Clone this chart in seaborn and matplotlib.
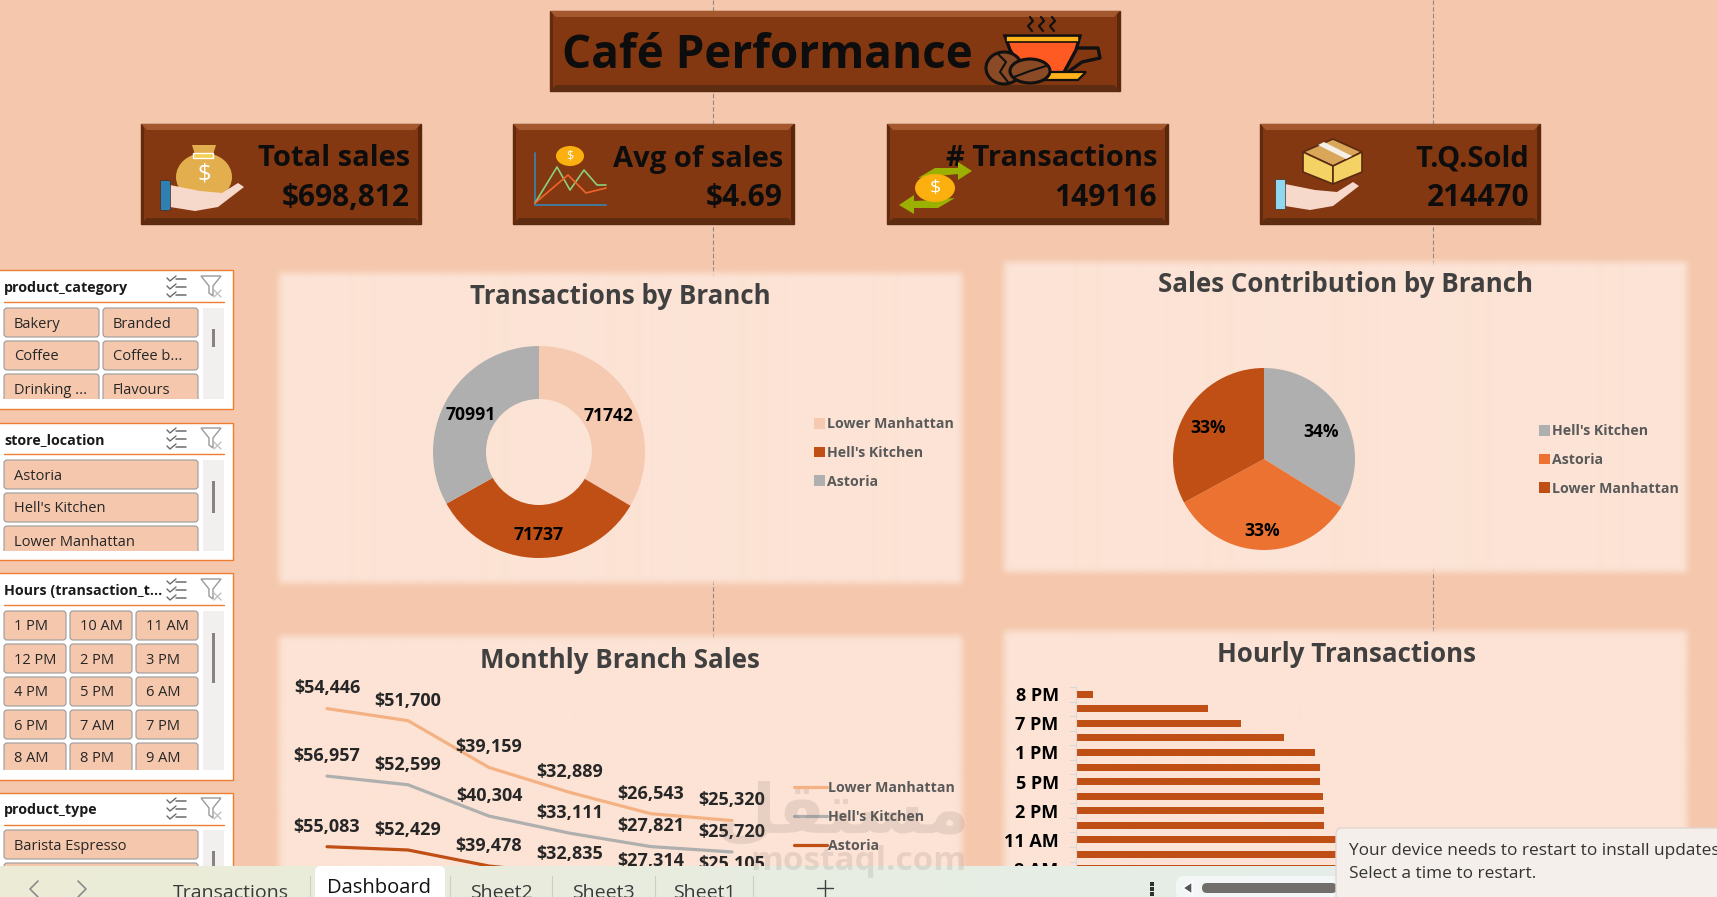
#!/usr/bin/env python
# coding: utf-8
import numpy as np
import pandas as pd
import matplotlib.pyplot as plt
from matplotlib.colors import to_rgb
from matplotlib.patches import Rectangle, FancyBboxPatch, Polygon, Ellipse
import seaborn as sns

sns.set_style('white')
plt.rcParams['font.family'] = ['Open Sans', 'DejaVu Sans']

W, H = 1717, 897
BG = '#F5C8AD'
PANEL = '#FCE3D5'
BROWN = '#843812'
DARK = '#C04F15'
GREY = '#AFAFAF'
LEGEND_TXT = '#595959'

# data
kpi_names = ['Total sales', 'Avg of sales', '# Transactions', 'T.Q.Sold']
kpi_values = ['$698,812', '$4.69', '149116', '214470']

branch_donut = ['Lower Manhattan', "Hell's Kitchen", 'Astoria']
trans_by_branch = [71742, 71737, 70991]

months = ['Jun', 'May', 'Apr', 'Mar', 'Feb', 'Jan']
lower_manhattan = [54446, 51700, 39159, 32889, 26543, 25320]
hells_kitchen = [56957, 52599, 40304, 33111, 27821, 25720]
astoria = [55083, 52429, 39478, 32835, 27314, 25105]

branch_pie = ["Hell's Kitchen", 'Astoria', 'Lower Manhattan']
sales_by_branch = [sum(hells_kitchen), sum(astoria), sum(lower_manhattan)]

hours = ['8 PM', '6 AM', '7 PM', '6 PM', '1 PM', '4 PM', '5 PM', '12 PM',
         '2 PM', '3 PM', '11 AM', '7 AM', '8 AM', '9 AM', '10 AM']
hour_trans = [603, 4750, 5960, 7500, 8620, 8800, 8800, 8900,
              8950, 8950, 9770, 13400, 17650, 17760, 18500]

slicer_category = ['Bakery', 'Branded', 'Coffee', 'Coffee b...', 'Drinking ...', 'Flavours']
slicer_store = ['Astoria', "Hell's Kitchen", 'Lower Manhattan']
slicer_hours = ['1 PM', '10 AM', '11 AM', '12 PM', '2 PM', '3 PM', '4 PM', '5 PM',
                '6 AM', '6 PM', '7 AM', '7 PM', '8 AM', '8 PM', '9 AM']
slicer_type = ['Barista Espresso', '']

fig = plt.figure(figsize=(W / 100, H / 100), dpi=100, facecolor=BG)


def px_axes(x0, y0, x1, y1, z=1):
    a = fig.add_axes([x0 / W, 1 - y1 / H, (x1 - x0) / W, (y1 - y0) / H])
    a.set_zorder(z)
    a.patch.set_alpha(0)
    return a


bg = px_axes(0, 0, W, H, 0)
top = px_axes(0, 0, W, H, 5)
for a in (bg, top):
    a.set_xlim(0, W)
    a.set_ylim(H, 0)
    a.axis('off')

# page break lines
for x in (713, 1433):
    bg.plot([x, x], [0, 640], color='#8A8A8A', lw=0.8, ls=(0, (4, 2)), zorder=0.5)


# ---- brown boxes
def bevel_box(x0, y0, x1, y1):
    b = 6
    bg.add_patch(Rectangle((x0, y0), x1 - x0, y1 - y0, fc=BROWN, ec='#5A2A10', lw=1, zorder=2))
    bg.add_patch(Polygon([(x0, y0), (x1, y0), (x1 - b, y0 + b), (x0 + b, y0 + b)], fc='#A5582E', ec='none', zorder=2))
    bg.add_patch(Polygon([(x0, y1), (x1, y1), (x1 - b, y1 - b), (x0 + b, y1 - b)], fc='#5E2C10', ec='none', zorder=2))
    bg.add_patch(Polygon([(x0, y0), (x0 + 3, y0 + 3), (x0 + 3, y1 - 3), (x0, y1)], fc='#632A0D', ec='none', zorder=2))
    bg.add_patch(Polygon([(x1, y0), (x1 - 3, y0 + 3), (x1 - 3, y1 - 3), (x1, y1)], fc='#5A260B', ec='none', zorder=2))


bevel_box(550, 11, 1120, 91)
bg.text(562, 55, 'Café Performance', fontsize=33, fontweight='bold', color='#0D0D0D', va='center', zorder=3)

kpi_x = [(141, 421), (513, 794), (887, 1168), (1260, 1540)]
for (x0, x1), name, val in zip(kpi_x, kpi_names, kpi_values):
    bevel_box(x0, 124, x1, 224)
    bg.text(x1 - 11, 159, name, fontsize=21, fontweight='bold', color='#0D0D0D', ha='right', va='center', zorder=3)
    bg.text(x1 - 11, 198, val, fontsize=21.5, fontweight='bold', color='#0D0D0D', ha='right', va='center', zorder=3)


# ---- icons, rough shapes only
def poly(pts, fc, ec='none', lw=0, z=3):
    bg.add_patch(Polygon(pts, fc=fc, ec=ec, lw=lw, zorder=z))


def ell(cx, cy, rx, ry, fc, ec='none', lw=0, z=3):
    bg.add_patch(Ellipse((cx, cy), 2 * rx, 2 * ry, fc=fc, ec=ec, lw=lw, zorder=z))


def hand(x0, y0, flip_cuff):
    poly([(x0 + 10, y0 + 2), (x0 + 40, y0 + 8), (x0 + 62, y0 + 10), (x0 + 78, y0), (x0 + 84, y0 + 4),
          (x0 + 58, y0 + 24), (x0 + 35, y0 + 28), (x0 + 10, y0 + 24)], '#F6D9CB', z=4)
    bg.add_patch(Rectangle((x0, y0 - 3), 10, 30, fc=flip_cuff, ec='#4A2A1A', lw=0.5, zorder=4))


# cup
cup = [(1005, 36), (1080, 36), (1076, 50), (1062, 76), (1026, 76), (1010, 50)]
poly(cup, '#FF5A22', ec='#111111', lw=2.4)
bg.add_patch(Rectangle((1006, 36), 73, 6, fc='#FFB21A', ec='#111111', lw=1.2, zorder=3))
bg.plot([1078, 1098, 1100, 1082, 1068], [48, 48, 58, 62, 72], color='#111111', lw=2.4, zorder=3)
poly([(1042, 72), (1086, 72), (1078, 80), (1038, 80)], '#FFB21A', ec='#111111', lw=1.6)
for sx in (1030, 1041, 1052):
    bg.plot([sx, sx + 3, sx - 2, sx + 2], [17, 21, 26, 31], color='#111111', lw=1.6, zorder=3)
ell(1004, 68, 18, 16, '#8A4A26', ec='#111111', lw=2.2, z=4)
ell(1030, 71, 20, 12, '#8A4A26', ec='#111111', lw=2.2, z=4)
bg.plot([1014, 1030, 1046], [77, 71, 66], color='#111111', lw=1.5, zorder=4)
bg.plot([998, 1006, 1000, 1008], [54, 62, 72, 82], color='#111111', lw=1.5, zorder=4)

# money bag
ell(204, 177, 28, 24, '#E3AE4E')
poly([(192, 145), (216, 145), (212, 158), (196, 158)], '#E3AE4E')
bg.add_patch(Rectangle((193, 153), 20, 5, fc='#F3D04E', zorder=3))
bg.text(204, 175, '$', color='white', fontsize=17, ha='center', va='center', zorder=4)
hand(160, 183, '#2F7FB0')

# small chart
bg.plot([535, 535, 606], [153, 205, 205], color='#3C7FA8', lw=1.3, zorder=3)
bg.plot([535, 557, 570, 584, 597, 606], [203, 167, 190, 170, 185, 185], color='#8BD07A', lw=1.2, zorder=3)
bg.plot([535, 568, 586, 606], [203, 175, 193, 188], color='#F0642A', lw=1.2, zorder=3)
ell(570, 156, 14, 10, '#FBB010')
bg.text(570, 156, '$', color='white', fontsize=9, ha='center', va='center', zorder=4)

# transfer icon
poly([(918, 178), (935, 168), (958, 168), (958, 162), (972, 171), (958, 180), (958, 174), (938, 176)], '#9BB000')
poly([(955, 198), (938, 208), (914, 208), (914, 214), (899, 205), (914, 195), (914, 201), (934, 200)], '#9BB000')
ell(935, 188, 20, 14, '#FBB010', z=4)
bg.text(935, 188, '$', color='white', fontsize=14, ha='center', va='center', zorder=5)

# parcel icon
poly([(1333, 139), (1362, 152), (1333, 166), (1303, 152)], '#D9A65A', ec='#5A2A10', lw=1.2)
poly([(1303, 152), (1333, 166), (1333, 184), (1303, 172)], '#F4D264', ec='#5A2A10', lw=1.2)
poly([(1362, 152), (1333, 166), (1333, 184), (1362, 172)], '#F4D264', ec='#5A2A10', lw=1.2)
poly([(1318, 145), (1324, 142), (1352, 156), (1346, 159)], '#F4EFE8')
hand(1275, 182, '#8FD8F0')


# ---- chart panels with the soft edge
def soft_panel(x0, y0, x1, y1, blur=6):
    xs = np.arange(x0 - blur, x1 + blur) + 0.5
    ys = np.arange(y0 - blur, y1 + blur) + 0.5
    ramp = lambda d: np.clip((d + blur) / (2 * blur), 0, 1) ** 2 * (3 - 2 * np.clip((d + blur) / (2 * blur), 0, 1))
    ax_ = ramp(np.minimum(xs - x0, x1 - xs))
    ay_ = ramp(np.minimum(ys - y0, y1 - ys))
    img = np.zeros((len(ys), len(xs), 4))
    img[..., :3] = to_rgb(PANEL)
    img[..., 3] = np.outer(ay_, ax_)
    bg.imshow(img, extent=[x0 - blur, x1 + blur, y1 + blur, y0 - blur], aspect='auto', interpolation='bilinear', zorder=1)


soft_panel(279, 273, 961, 583)
soft_panel(1004, 262, 1686, 572)
soft_panel(279, 637, 961, 920)
soft_panel(1004, 632, 1686, 920)
bg.set_xlim(0, W)
bg.set_ylim(H, 0)

for txt, cx, cy in [('Transactions by Branch', 620, 296), ('Sales Contribution by Branch', 1345, 285),
                    ('Monthly Branch Sales', 620, 660), ('Hourly Transactions', 1346, 655)]:
    bg.text(cx, cy, txt, fontsize=18.6, fontweight='bold', color='#404040', ha='center', va='center', zorder=3)


def legend_at(ax, handles, labels, x, y, **kw):
    ax.legend(handles, labels, loc='center left', bbox_to_anchor=(x / W, 1 - y / H), bbox_transform=fig.transFigure,
              frameon=False, labelcolor=LEGEND_TXT, prop={'weight': 'bold', 'size': 10.2}, labelspacing=1.03,
              borderpad=0, borderaxespad=0, **kw)


def nudge(t, dy):
    x, y = t.get_position()
    t.set_position((x, y + dy))


# donut
R = 106
ax1 = px_axes(539 - R * 1.05, 452 - R * 1.05, 539 + R * 1.05, 452 + R * 1.05)
w1, _, t1 = ax1.pie(trans_by_branch, startangle=90, counterclock=False, colors=['#F6CAB0', DARK, GREY],
                    wedgeprops={'width': 0.5, 'edgecolor': 'none', 'linewidth': 0}, pctdistance=0.75, radius=1,
                    autopct=lambda p: f'{round(p * sum(trans_by_branch) / 100)}',
                    textprops={'fontsize': 12.6, 'fontweight': 'bold', 'color': 'black'})
for t in t1:
    nudge(t, -0.03)
ax1.set_xlim(-1.05, 1.05)
ax1.set_ylim(-1.05, 1.05)
legend_at(ax1, w1, branch_donut, 814, 453, handlelength=0.75, handleheight=0.75, handletextpad=0.2)

# pie
R = 91
ax2 = px_axes(1264 - R * 1.05, 459 - R * 1.05, 1264 + R * 1.05, 459 + R * 1.05)
w2, _, t2 = ax2.pie(sales_by_branch, startangle=90, counterclock=False, colors=[GREY, '#EC7232', DARK],
                    wedgeprops={'edgecolor': 'none', 'linewidth': 0},
                    pctdistance=0.72, radius=1, autopct='%.0f%%',
                    textprops={'fontsize': 12.6, 'fontweight': 'bold', 'color': 'black'})
for t, dy in zip(t2, (-0.05, -0.07, -0.025)):
    nudge(t, dy)
ax2.set_xlim(-1.05, 1.05)
ax2.set_ylim(-1.05, 1.05)
legend_at(ax2, w2, branch_pie, 1539, 460, handlelength=0.75, handleheight=0.75, handletextpad=0.2)

# stacked monthly lines
stack_lm = np.array(lower_manhattan) + np.array(hells_kitchen) + np.array(astoria)
stack_hk = np.array(hells_kitchen) + np.array(astoria)
stack_as = np.array(astoria)
df = pd.DataFrame({'month': months * 3,
                   'branch': ['Lower Manhattan'] * 6 + ["Hell's Kitchen"] * 6 + ['Astoria'] * 6,
                   'level': np.concatenate([stack_lm, stack_hk, stack_as])})
ax3 = px_axes(286.5, 640, 772.5, 866)
line_cols = {'Lower Manhattan': '#F4B183', "Hell's Kitchen": GREY, 'Astoria': DARK}
sns.lineplot(data=df, x='month', y='level', hue='branch', palette=line_cols, sort=False,
             linewidth=2.3, ax=ax3)
ax3.set_xlim(-0.5, 5.5)
ax3.set_ylim(39516, 221774)
ax3.axis('off')
for levels, vals in [(stack_lm, lower_manhattan), (stack_hk, hells_kitchen), (stack_as, astoria)]:
    for i, (lv, v) in enumerate(zip(levels, vals)):
        ax3.annotate(f'${v:,}', (i, lv), xytext=(0, 14.5), textcoords='offset points', ha='center', va='center',
                     fontsize=13, fontweight='bold', color='#262626', annotation_clip=False)
h3, l3 = ax3.get_legend_handles_labels()
legend_at(ax3, h3, l3, 794, 817, handlelength=2.3, handletextpad=0.1)
ax3.get_legend().set_zorder(3)

# hourly bars
row = 14.55
ax4 = px_axes(1076, 687, 1649, 687 + row * len(hours))
sns.barplot(x=hour_trans, y=hours, color=DARK, saturation=1, width=0.48, orient='h', linewidth=0, ax=ax4)
ax4.set_xlim(0, 20686)
ax4.set_ylim(len(hours) - 0.5, -0.5)
ax4.set_xticks([])
ax4.set_xlabel('')
ax4.set_yticks(range(0, len(hours), 2))
ax4.set_yticklabels(hours[::2], fontsize=13, fontweight='bold', color='black')
ax4.set_yticks(np.arange(-0.5, len(hours)), minor=True)
ax4.tick_params(axis='y', which='major', length=0, pad=12.5, left=False)
ax4.tick_params(axis='y', which='minor', length=5, width=0.8, color='#D9D9D9', left=True)
sns.despine(ax=ax4, top=True, right=True, bottom=True)
ax4.spines['left'].set_color('#D9D9D9')


# ---- slicers
def slicer(y0, y1, title, items, ncol, text_y, line_y, btn_y, view_end, thumb):
    bg.add_patch(Rectangle((-3, y0), 236, y1 - y0, fc='white', ec='#ED7D31', lw=1, zorder=2))
    bg.text(4, text_y + 1, title, fontsize=10.3, fontweight='bold', color='#1A1A1A', va='center', zorder=3)
    bg.plot([4, 224], [line_y, line_y], color='#ED7D31', lw=1, zorder=3)
    clip = Rectangle((0, btn_y - 1), 200, view_end - btn_y + 1, transform=bg.transData)
    wid = 95 if ncol == 2 else (62 if ncol == 3 else 194)
    gap = 99 if ncol == 2 else 66
    for i, name in enumerate(items):
        bx = 4 + (i % ncol) * gap
        by = btn_y + (i // ncol) * 33
        p = FancyBboxPatch((bx + 1, by + 1), wid - 2, 27, boxstyle='round,pad=1,rounding_size=3', fc=BG, ec='#9A9A9A',
                           lw=0.8, zorder=3)
        bg.add_patch(p)
        p.set_clip_path(clip)
        t = bg.text(bx + 10, by + 16, name, fontsize=10.5, color='#262626', va='center', zorder=4, clip_on=True)
        t.set_clip_path(clip)
    bg.add_patch(Rectangle((203, btn_y), 21, view_end - btn_y, fc='#F1F0EF', ec='none', zorder=3))
    bg.add_patch(Rectangle((211.5, thumb[0]), 3, thumb[1] - thumb[0], fc='#8A8280', ec='none', zorder=4))
    # select many + clear filter icons
    for k in range(3):
        yy = text_y - 8 + k * 8
        bg.plot([167, 170, 176], [yy - 1, yy + 2, yy - 3], color='#6B6B6B', lw=1, zorder=4)
        bg.plot([176, 186], [yy, yy], color='#6B6B6B', lw=1.1, zorder=4)
    fy = text_y - 11
    bg.add_patch(Polygon([(201, fy), (221, fy), (213, fy + 10), (213, fy + 20), (209, fy + 17), (209, fy + 10)],
                         fc='white', ec='#9A9A9A', lw=1, zorder=4))
    bg.plot([214, 221], [fy + 14, fy + 21], color='#C0C0C0', lw=1, zorder=4)
    bg.plot([221, 214], [fy + 14, fy + 21], color='#C0C0C0', lw=1, zorder=4)


slicer(270, 409, 'product_category', slicer_category, 2, 287, 302, 308, 399, (329, 347))
slicer(423, 560, 'store_location', slicer_store, 1, 439, 454, 460, 551, (481, 513))
slicer(573, 780, 'Hours (transaction_t...', slicer_hours, 3, 590, 605, 611, 770, (633, 683))
slicer(793, 900, 'product_type', slicer_type, 1, 809, 825, 830, 900, (851, 900))

# ---- excel sheet tabs
grad = np.linspace(0, 1, 256).reshape(1, -1, 1)
c0 = np.array([0.925, 0.925, 0.84]).reshape(1, 1, 3)
c1 = np.array([0.89, 0.935, 0.935]).reshape(1, 1, 3)
top.imshow(c0 + (c1 - c0) * grad, extent=[0, W, H, 866], aspect='auto', zorder=1)
top.set_xlim(0, W)
top.set_ylim(H, 0)
top.add_patch(FancyBboxPatch((318, 869), 124, 40, boxstyle='round,pad=3,rounding_size=6', fc='white', ec='none', zorder=2))
for x in (310, 450, 552, 655, 753):
    top.plot([x, x], [876, 897], color='#CFCFC0', lw=0.8, zorder=2)
top.text(379, 888, 'Dashboard', fontsize=14.5, color='#111111', ha='center', va='center', zorder=3)
for x, s in [(231, 'Transactions'), (501, 'Sheet2'), (603, 'Sheet3'), (704, 'Sheet1')]:
    top.text(x, 893, s, fontsize=14, color='#3A3A3A', ha='center', va='center', zorder=3, clip_on=True)
top.plot([38, 30, 38], [881, 889, 897], color='#8C8C8C', lw=1.2, zorder=3)
top.plot([78, 86, 78], [881, 889, 897], color='#8C8C8C', lw=1.2, zorder=3)
top.plot([825, 825], [880, 897], color='#404040', lw=1, zorder=3)
top.plot([817, 833], [888, 888], color='#404040', lw=1, zorder=3)
for yy in (884, 889, 894):
    top.add_patch(Rectangle((1150, yy - 1.5), 3.5, 3.5, fc='#303030', ec='none', zorder=3))
top.add_patch(FancyBboxPatch((1176, 876), 170, 24, boxstyle='round,pad=0,rounding_size=8', fc='#F2F6F6', ec='none', zorder=3))
top.add_patch(Polygon([(1183, 888), (1192, 882), (1192, 894)], fc='#555555', zorder=4))
top.add_patch(FancyBboxPatch((1202, 883), 135, 10, boxstyle='round,pad=0,rounding_size=5', fc='#716D6B', ec='none', zorder=4))

# watermark, arabic letters stored in drawing order
top.text(842, 813, '\uFEDE\uFED8\uFE98\uFEB4\uFEE3', fontsize=50, fontweight='bold', color='#6E6058', alpha=0.14,
         ha='center', va='center', family=['DejaVu Sans'], zorder=6)
top.text(858, 861, 'mostaql.com', fontsize=24, fontweight='bold', color='#6E6058', alpha=0.14, ha='center', va='center',
         zorder=6)

# restart toast
top.add_patch(FancyBboxPatch((1336, 828), 420, 90, boxstyle='round,pad=0,rounding_size=6', fc='#F4EFEA', ec='#E2D6CF',
                             lw=1, zorder=7))
top.text(1349, 851, 'Your device needs to restart to install updates', fontsize=12.45, color='#333333', va='center', zorder=8,
         clip_on=True)
top.text(1349, 874, 'Select a time to restart.', fontsize=12.45, color='#333333', va='center', zorder=8)

plt.savefig('out.png', dpi=100, facecolor=BG)
